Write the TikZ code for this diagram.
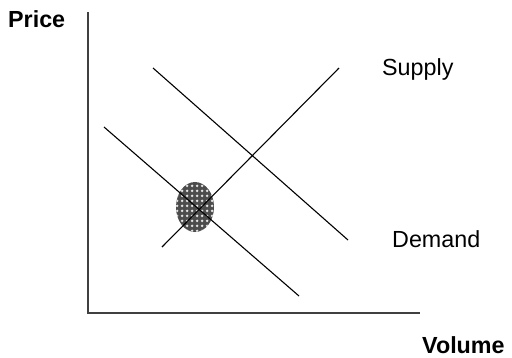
\documentclass[tikz,border=0pt]{standalone}
\usepackage{fontspec}
\setmainfont{Liberation Sans}
\usetikzlibrary{patterns.meta,shapes.geometric}
% coarse white dot grid for the shaded region
\pgfdeclarepattern{name=whitedots,type=uncolored,
  bottom left={\pgfpointorigin},top right={\pgfpoint{5pt}{5pt}},
  tile size={\pgfpoint{5pt}{5pt}},
  code={\pgfpathcircle{\pgfpoint{2.5pt}{2.5pt}}{1.7pt}\pgfusepath{fill}}}
\begin{document}
\begin{tikzpicture}[x=1pt,y=-1pt,
  axis/.style={line width=1.6pt,draw=black!75},
  curve/.style={line width=1.1pt,draw=black},
  lbl/.style={anchor=base west,inner sep=0pt,font=\fontsize{23.3}{28}\selectfont},
  axislbl/.style={lbl,font=\fontsize{23.3}{28}\selectfont\bfseries},
  spot/.style={ellipse,inner sep=0pt,fill=black!70,
    postaction={pattern=whitedots,pattern color=white!90!black}}]
\useasboundingbox (0,0) rectangle (512,357);
% axes
\coordinate (top) at (88,12);
\coordinate (origin) at (88,313);
\coordinate (right) at (420,313);
\draw[axis] (top) -- (origin) -- (right);
% line end points
\coordinate (d1a) at (153,68);
\coordinate (d1b) at (348,240);
\coordinate (d2a) at (104,127);
\coordinate (d2b) at (299,296);
\coordinate (sa) at (162,247);
\coordinate (sb) at (339,68);
% highlighted equilibrium region
\node[spot,minimum width=38pt,minimum height=50pt] (eq) at (195,207) {};
% curves
\draw[curve] (d1a) -- (d1b);
\draw[curve] (d2a) -- (d2b);
\draw[curve] (sa) -- (sb);
% labels
\node[axislbl] (price) at (8,27) {Price};
\node[axislbl] (volume) at (422,353) {Volume};
\node[lbl] (supply) at (382,75) {Supply};
\node[lbl] (demand) at (392,247) {Demand};
\end{tikzpicture}
\end{document}
